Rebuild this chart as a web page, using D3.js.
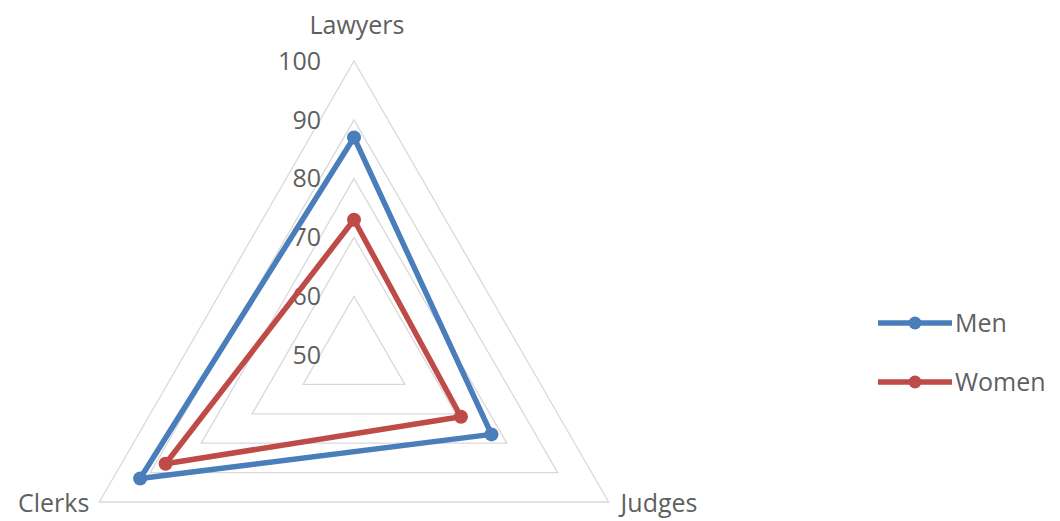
<!DOCTYPE html>
<html><head><meta charset="utf-8">
<script src="https://cdn.jsdelivr.net/npm/d3@7"></script>
<style>body{margin:0;background:#fff}svg{display:block}</style>
</head><body>
<svg id="c" width="1060" height="521"></svg>
<script>
const categories = ["Lawyers", "Judges", "Clerks"];
const seriesNames = ["Men", "Women"];
const menValues = [87, 77, 92];
const womenValues = [73, 71, 87];
const tickValues = [50, 60, 70, 80, 90, 100];
const colors = ["#4A7EBB", "#BE4B48"];

const svg = d3.select("#c");
const cx = 354, cy = 355, R = 294;
const r = d3.scaleLinear().domain([50, 100]).range([0, R]);
const ang = d3.scaleLinear().domain([0, categories.length]).range([-Math.PI/2, 1.5*Math.PI]);
const pt = (i, v) => [cx + r(v)*Math.cos(ang(i)), cy + r(v)*Math.sin(ang(i))];
const font = "'Open Sans', sans-serif";
const textCol = "#5f5f5f";
const fs = 25;

// grid
const line = d3.line().curve(d3.curveLinearClosed);
tickValues.slice(1).forEach(t => {
  svg.append("path").attr("d", line(categories.map((c,i)=>pt(i,t))))
    .attr("fill","none").attr("stroke","#d9d9d9").attr("stroke-width",1.3);
});
// tick labels
tickValues.forEach(t => {
  svg.append("text").attr("x", cx-33).attr("y", cy - r(t)).attr("dy","0.35em")
    .attr("text-anchor","end").attr("font-family",font).attr("font-size",fs)
    .attr("fill",textCol).text(t);
});
// category labels
svg.append("text").attr("x", pt(0,100)[0]+3).attr("y", 25).attr("dy","0.35em")
  .attr("text-anchor","middle").attr("font-family",font).attr("font-size",fs).attr("fill",textCol).text(categories[0]);
svg.append("text").attr("x", pt(1,100)[0]+12).attr("y", 503).attr("dy","0.35em")
  .attr("text-anchor","start").attr("font-family",font).attr("font-size",fs).attr("fill",textCol).text(categories[1]);
svg.append("text").attr("x", pt(2,100)[0]-10).attr("y", 503).attr("dy","0.35em")
  .attr("text-anchor","end").attr("font-family",font).attr("font-size",fs).attr("fill",textCol).text(categories[2]);

// series
[menValues, womenValues].forEach((vals, si) => {
  const pts = vals.map((v,i)=>pt(i,v));
  svg.append("path").attr("d", line(pts)).attr("fill","none")
    .attr("stroke", colors[si]).attr("stroke-width",5.5).attr("stroke-linejoin","round");
  svg.selectAll(null).data(pts).enter().append("circle")
    .attr("cx",d=>d[0]).attr("cy",d=>d[1]).attr("r",7).attr("fill",colors[si]);
});

// legend
seriesNames.forEach((n, si) => {
  const y = 323 + si*59;
  svg.append("line").attr("x1",878).attr("x2",952).attr("y1",y).attr("y2",y)
    .attr("stroke",colors[si]).attr("stroke-width",5.5);
  svg.append("circle").attr("cx",915).attr("cy",y).attr("r",6.5).attr("fill",colors[si]);
  svg.append("text").attr("x",955).attr("y",y).attr("dy","0.35em")
    .attr("font-family",font).attr("font-size",fs).attr("fill",textCol).text(n);
});
</script>
</body></html>
